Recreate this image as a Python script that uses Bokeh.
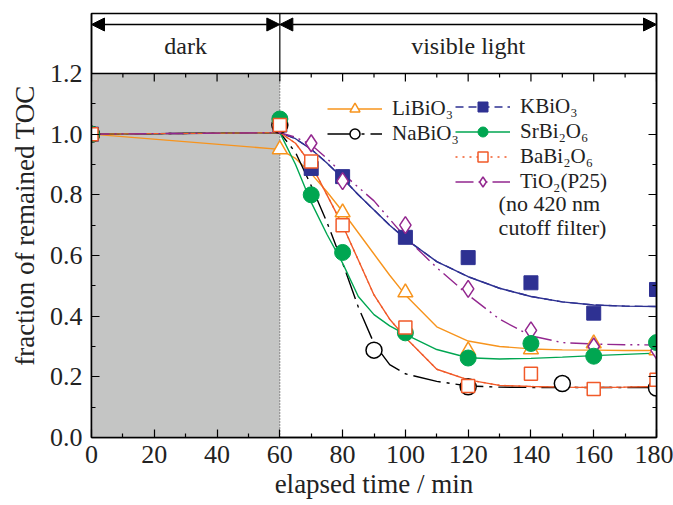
from bokeh.plotting import figure
from bokeh.models import (Range1d, LinearAxis, FixedTicker, Legend, LegendItem, Label,
                          Span, Arrow, NormalHead, PrintfTickFormatter, CustomLabelingPolicy)
from bokeh.embed import file_html
from bokeh.resources import INLINE

FONT = "Liberation Serif"

# ---------------- data ----------------
phase_edges = [0, 60, 180]
phase_labels = ["dark", "visible light"]

x_ticks = [0, 20, 40, 60, 80, 100, 120, 140, 160, 180]
x_minor = [10, 30, 50, 70, 90, 110, 130, 150, 170]
y_ticks = [0.0, 0.2, 0.4, 0.6, 0.8, 1.0, 1.2]
y_minor = [0.1, 0.3, 0.5, 0.7, 0.9, 1.1]

# measured points
li_t = [0, 60, 80, 100, 120, 140, 160, 180]
li_v = [1.0, 0.95, 0.742, 0.478, 0.287, 0.29, 0.31, 0.287]
k_t = [0, 60, 70, 80, 100, 120, 140, 160, 180]
k_v = [1.0, 1.03, 0.887, 0.86, 0.66, 0.593, 0.51, 0.41, 0.488]
na_t = [0, 60, 90, 120, 150, 180]
na_v = [1.0, 1.03, 0.288, 0.167, 0.178, 0.163]
sr_t = [0, 60, 70, 80, 100, 120, 140, 160, 180]
sr_v = [1.0, 1.05, 0.80, 0.61, 0.345, 0.262, 0.31, 0.268, 0.313]
ba_t = [0, 60, 70, 80, 100, 120, 140, 160, 180]
ba_v = [1.0, 1.03, 0.91, 0.70, 0.363, 0.17, 0.21, 0.16, 0.19]
ti_t = [0, 60, 70, 80, 100, 120, 140, 160, 180]
ti_v = [1.0, 1.03, 0.97, 0.845, 0.70, 0.49, 0.353, 0.30, 0.287]

# fitted curves
fit_t = [0, 60, 65, 70, 75, 80, 85, 90, 95, 100, 110, 120, 130, 140, 150, 160, 170, 180]
li_fit = [1.0, 0.95, 0.92, 0.87, 0.81, 0.745, 0.675, 0.605, 0.535, 0.47, 0.365, 0.318, 0.30, 0.292, 0.289, 0.288, 0.287, 0.287]
k_fit = [1.0, 1.005, 0.985, 0.95, 0.905, 0.855, 0.80, 0.75, 0.70, 0.655, 0.58, 0.53, 0.492, 0.465, 0.447, 0.437, 0.433, 0.432]
na_fit = [1.0, 1.005, 0.94, 0.83, 0.71, 0.575, 0.43, 0.31, 0.24, 0.21, 0.185, 0.17, 0.166, 0.165, 0.165, 0.165, 0.165, 0.165]
sr_fit = [1.0, 1.005, 0.90, 0.775, 0.67, 0.575, 0.465, 0.405, 0.368, 0.34, 0.29, 0.263, 0.259, 0.261, 0.265, 0.27, 0.274, 0.278]
ba_fit = [1.0, 1.005, 0.97, 0.90, 0.80, 0.70, 0.585, 0.47, 0.39, 0.33, 0.225, 0.19, 0.172, 0.168, 0.166, 0.165, 0.166, 0.168]
ti_fit = [1.0, 1.005, 0.99, 0.965, 0.92, 0.87, 0.825, 0.78, 0.72, 0.66, 0.56, 0.47, 0.39, 0.335, 0.313, 0.308, 0.306, 0.305]

names = ["LiBiO₃", "KBiO₃", "NaBiO₃", "SrBi₂O₆", "BaBi₂O₆", "TiO₂(P25)"]
note_lines = ["(no 420 nm", "cutoff filter)"]

C_LI = "#f7941d"
C_K = "#2e3192"
C_NA = "#000000"
C_SR = "#00a651"
C_BA = "#f15a29"
C_TI = "#93278f"
C_GREY = "#c4c5c4"
C_TXT = "#222222"

# ---------------- geometry ----------------
FW = 565
PLOT_H, HDR_H = 364, 60              # pixel heights of data area and header band
FH = PLOT_H + HDR_H
ML, MR, MT, MB = 91, 17, 13, 68
Y_PLOT_TOP = y_ticks[-1]
PX = Y_PLOT_TOP / PLOT_H              # data units per pixel (vertical)
Y_TOP = Y_PLOT_TOP + HDR_H * PX       # top of header band in data units

p = figure(frame_width=FW, frame_height=FH,
           x_range=Range1d(phase_edges[0], phase_edges[-1]), y_range=Range1d(y_ticks[0], Y_TOP),
           toolbar_location=None, output_backend="svg",
           min_border_left=ML, min_border_right=MR, min_border_top=MT, min_border_bottom=MB,
           outline_line_color="black", outline_line_width=1.5, background_fill_color="white")
p.grid.visible = False

# dark period shading and boundary
p.quad(left=[phase_edges[0]], right=[phase_edges[1]], bottom=[y_ticks[0]], top=[Y_PLOT_TOP],
       fill_color=C_GREY, line_color=None, level="underlay")
p.segment(x0=[phase_edges[1]], x1=[phase_edges[1]], y0=[y_ticks[0]], y1=[Y_PLOT_TOP],
          line_color="#333333", line_width=1, line_dash="1 2")

# ---------------- header band ----------------
p.add_layout(Span(location=Y_PLOT_TOP, dimension="width", line_color="black", line_width=1.5))
p.segment(x0=[phase_edges[1]], x1=[phase_edges[1]], y0=[Y_PLOT_TOP], y1=[Y_TOP],
          line_color="black", line_width=1.2)
y_arrow = Y_PLOT_TOP + 49 * PX
y_hdr_text = Y_PLOT_TOP + 28 * PX
for i in range(len(phase_labels)):
    a, b = phase_edges[i], phase_edges[i + 1]
    p.add_layout(Arrow(x_start=a, x_end=b, y_start=y_arrow, y_end=y_arrow, line_width=1.3,
                       start=NormalHead(size=13, fill_color="black", line_color="black"),
                       end=NormalHead(size=13, fill_color="black", line_color="black")))
    p.add_layout(Label(x=(a + b) / 2, y=y_hdr_text, text=phase_labels[i], text_align="center",
                       text_baseline="middle", text_font=FONT, text_font_size="24px",
                       text_color=C_TXT))

# ticks along the top edge of the data area (inward)
p.segment(x0=x_ticks, x1=x_ticks, y0=[Y_PLOT_TOP] * len(x_ticks),
          y1=[Y_PLOT_TOP - 8 * PX] * len(x_ticks), line_color="black", line_width=1.2)
p.segment(x0=x_minor, x1=x_minor, y0=[Y_PLOT_TOP] * len(x_minor),
          y1=[Y_PLOT_TOP - 4 * PX] * len(x_minor), line_color="black", line_width=1.2)

# ---------------- axes ----------------
no_labels = CustomLabelingPolicy(code="return new Set()")

def style_axis(ax, labels=True):
    ax.major_tick_in = 8
    ax.major_tick_out = 0
    ax.minor_tick_in = 4
    ax.minor_tick_out = 0
    ax.axis_line_width = 1.5
    ax.major_tick_line_width = 1.2
    ax.minor_tick_line_width = 1.2
    if not labels:
        ax.major_label_text_font_size = "0px"
        ax.major_label_standoff = 0
        ax.major_label_policy = no_labels

p.xaxis.ticker = FixedTicker(ticks=x_ticks, minor_ticks=x_minor)
p.yaxis.ticker = FixedTicker(ticks=y_ticks, minor_ticks=y_minor)
p.yaxis.formatter = PrintfTickFormatter(format="%.1f")
style_axis(p.xaxis[0])
style_axis(p.yaxis[0])
for ax in (p.xaxis[0], p.yaxis[0]):
    ax.major_label_text_font = FONT
    ax.major_label_text_font_size = "26px"
    ax.major_label_text_color = C_TXT
    ax.axis_label_text_font = FONT
    ax.axis_label_text_font_size = "27px"
    ax.axis_label_text_font_style = "normal"
    ax.axis_label_text_color = C_TXT
p.xaxis.axis_label = "elapsed time / min"
p.yaxis.axis_label = "fraction of remained TOC"
p.xaxis.major_label_standoff = 8
p.xaxis.axis_label_standoff = 3
p.yaxis.major_label_standoff = 9
p.yaxis.axis_label_standoff = 7

ax_right = LinearAxis(ticker=FixedTicker(ticks=y_ticks, minor_ticks=y_minor))
style_axis(ax_right, labels=False)
p.add_layout(ax_right, "right")

# ---------------- series ----------------
LW = 1.4
# legend-only line styles, hidden under the solid fitted curves
k_leg = p.line(fit_t, k_fit, line_color=C_K, line_width=LW, line_dash="8 5")
ba_leg = p.line(fit_t, ba_fit, line_color=C_BA, line_width=LW, line_dash="2 5")

li_line = p.line(fit_t, li_fit, line_color=C_LI, line_width=LW)
k_line = p.line(fit_t, k_fit, line_color=C_K, line_width=LW)
na_line = p.line(fit_t, na_fit, line_color=C_NA, line_width=LW, line_dash="28 6 3 6")
sr_line = p.line(fit_t, sr_fit, line_color=C_SR, line_width=LW)
ba_line = p.line(fit_t, ba_fit, line_color=C_BA, line_width=LW)
ti_line = p.line(fit_t, ti_fit, line_color=C_TI, line_width=LW, line_dash="18 5 2 5 2 5")

li_sc = p.scatter(li_t, li_v, marker="triangle", size=15, line_color=C_LI, fill_color="white", line_width=1.5)
k_sc = p.scatter(k_t, k_v, marker="square", size=14, line_color=C_K, fill_color=C_K, line_width=1)
na_sc = p.scatter(na_t, na_v, marker="circle", size=16, line_color=C_NA, fill_color="white", line_width=1.5)
ti_sc = p.scatter(ti_t, ti_v, marker="diamond", size=17, line_color=C_TI, fill_color="white", line_width=1.5)
sr_sc = p.scatter(sr_t, sr_v, marker="circle", size=16, line_color=C_SR, fill_color=C_SR, line_width=1)
ba_sc = p.scatter(ba_t, ba_v, marker="square", size=13, line_color=C_BA, fill_color="white", line_width=1.5)

def make_legend(items, loc):
    lg = Legend(items=items, location=loc, orientation="vertical",
                background_fill_alpha=0, border_line_alpha=0, padding=0, margin=0,
                spacing=0, glyph_width=55, glyph_height=25, label_height=25,
                label_standoff=10, label_text_font=FONT, label_text_font_size="21px",
                label_text_color=C_TXT)
    p.add_layout(lg)

make_legend([LegendItem(label=names[0], renderers=[li_line, li_sc]),
             LegendItem(label=names[2], renderers=[na_line, na_sc])], (236, 291))
make_legend([LegendItem(label=names[1], renderers=[k_leg, k_sc]),
             LegendItem(label=names[3], renderers=[sr_line, sr_sc]),
             LegendItem(label=names[4], renderers=[ba_leg, ba_sc]),
             LegendItem(label=names[5], renderers=[ti_line, ti_sc])], (364, 243))

note_x = 129.7
note_y = [0.772, 0.692]
for txt, yy in zip(note_lines, note_y):
    p.add_layout(Label(x=note_x, y=yy, text=txt, text_align="left", text_baseline="middle",
                       text_font=FONT, text_font_size="22px", text_color=C_TXT))

open("out.html", "w").write(file_html(p, INLINE))
